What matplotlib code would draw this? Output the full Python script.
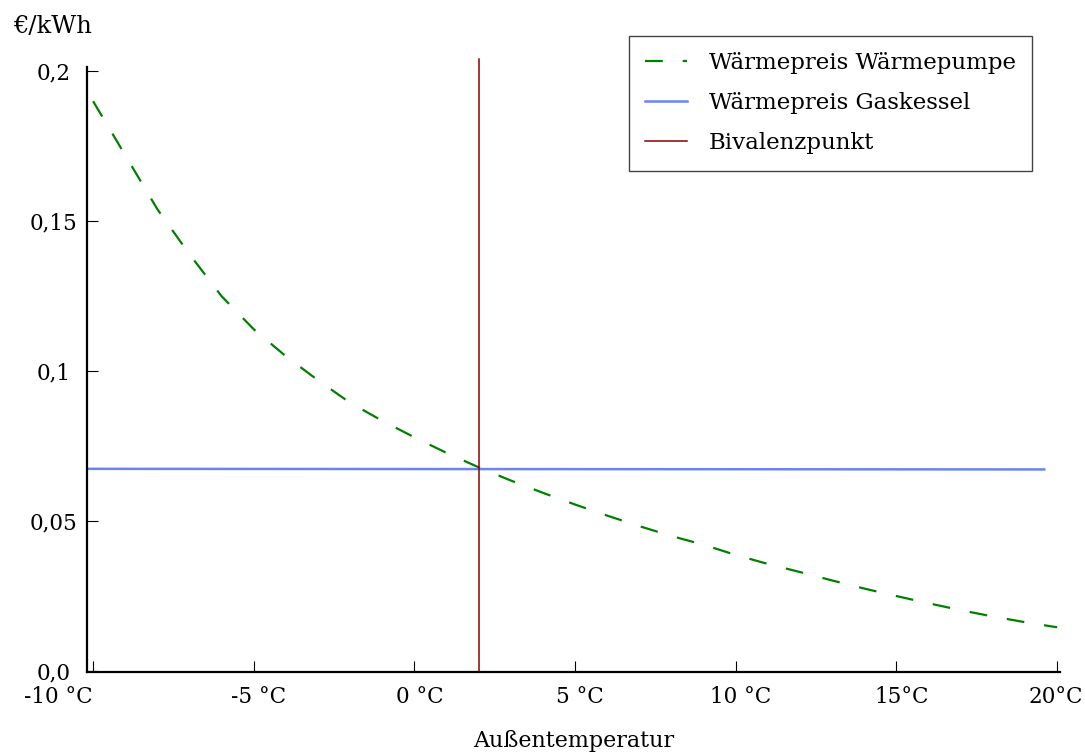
import matplotlib
matplotlib.use("Agg")
import matplotlib.pyplot as plt
import matplotlib.transforms as mtransforms

plt.rcParams['font.family'] = ['DejaVu Serif']

# Heat price of the heat pump over outdoor temperature (°C -> €/kWh)
hp_temp = [-10, -9, -8, -7, -6, -5, -4, -3, -2, -1, 0, 1, 2, 3, 4, 5,
           6, 7, 8, 9, 10, 11, 12, 13, 14, 15, 16, 17, 18, 19, 20]
hp_price = [0.190, 0.172, 0.154, 0.139, 0.125, 0.114, 0.105, 0.097, 0.0895,
            0.0835, 0.078, 0.0728, 0.068, 0.0636, 0.0595, 0.0556, 0.0519,
            0.0484, 0.0451, 0.0422, 0.0388, 0.0358, 0.0331, 0.0303, 0.0276,
            0.0251, 0.0227, 0.0204, 0.0183, 0.0164, 0.0147]

# Heat price of the gas boiler
gas_temp = [-10.2, 19.6]
gas_price = [0.0675, 0.0673]

# Bivalent point
bivalent_temp = 2.0
bivalent_top = 0.204

x_ticks = [-10, -5, 0, 5, 10, 15, 20]
x_ticklabels = ['-10 °C', '-5 °C', '0 °C', '5 °C', '10 °C', '15°C', '20°C']
y_ticks = [0.0, 0.05, 0.1, 0.15, 0.2]
y_ticklabels = ['0,0', '0,05', '0,1', '0,15', '0,2']

W, H = 1085, 755
fig = plt.figure(figsize=(W / 100, H / 100), dpi=100)
ax = fig.add_axes([87 / W, 1 - 672.3 / H, (1060 - 87) / W, (672.3 - 66.7) / H])

green, = ax.plot(hp_temp, hp_price, color='#008000', lw=1.6,
                 dashes=(8, 9), label='Wärmepreis Wärmepumpe')
blue, = ax.plot(gas_temp, gas_price, color='#6b82f0', lw=1.8,
                label='Wärmepreis Gaskessel')
red, = ax.plot([bivalent_temp, bivalent_temp], [0, bivalent_top],
               color='#8b0000', lw=1.1, clip_on=False, label='Bivalenzpunkt')

ax.set_xlim(-10.19, 20.09)
ax.set_ylim(-0.0003, 0.2015)

for s in ['top', 'right']:
    ax.spines[s].set_visible(False)
for s in ['left', 'bottom']:
    ax.spines[s].set_linewidth(1.6)

ax.set_xticks(x_ticks)
ax.set_xticklabels(x_ticklabels)
ax.set_yticks(y_ticks)
ax.set_yticklabels(y_ticklabels)
ax.tick_params(axis='both', direction='in', length=8, width=0.8,
               labelsize=15.5)
ax.tick_params(axis='x', pad=10)
ax.tick_params(axis='y', pad=24)
for lbl in ax.get_yticklabels():
    lbl.set_ha('center')
xl = ax.get_xticklabels()
xl[0].set_ha('right')
shift = mtransforms.ScaledTranslation(5 / 100, 0, fig.dpi_scale_trans)
for lbl in xl[1:-1]:
    lbl.set_transform(lbl.get_transform() + shift)
xl[-1].set_ha('right')
end_shift = mtransforms.ScaledTranslation(26 / 100, 0, fig.dpi_scale_trans)
xl[-1].set_transform(xl[-1].get_transform() + end_shift)

ax.set_xlabel('Außentemperatur', fontsize=16, labelpad=16)
fig.text(13 / W, 1 - 33 / H, '€/kWh', fontsize=17.5, va='baseline', ha='left')

leg = ax.legend(handles=[green, blue, red], loc='upper right',
                bbox_to_anchor=(1032 / W, 1 - 36 / H),
                bbox_transform=fig.transFigure, borderaxespad=0,
                fancybox=False, framealpha=1, edgecolor='#444444',
                fontsize=16.5, handlelength=1.8, handletextpad=0.95,
                labelspacing=0.78, borderpad=0.72)
leg.get_frame().set_linewidth(1.0)

fig.savefig('out.png', dpi=100)
